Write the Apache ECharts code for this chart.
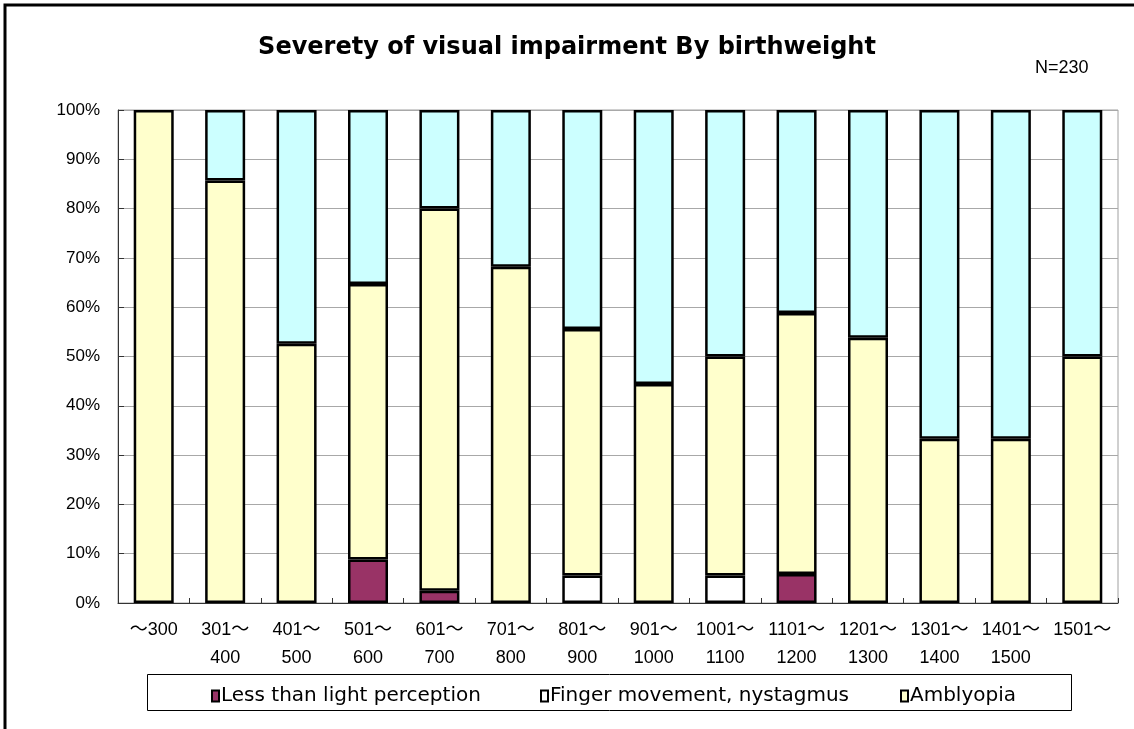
<!DOCTYPE html>
<html>
<head>
<meta charset="utf-8">
<script src="https://cdn.jsdelivr.net/npm/echarts@6/dist/echarts.min.js"></script>
<style>
html,body{margin:0;padding:0;background:#fff;}
#c{width:1134px;height:729px;}
</style>
</head>
<body>
<div id="c"></div>
<script>
var categories = ['～300','301～\n400','401～\n500','501～\n600','601～\n700','701～\n800','801～\n900','901～\n1000','1001～\n1100','1101～\n1200','1201～\n1300','1301～\n1400','1401～\n1500','1501～'];
var lessThanLight = [0, 0, 0, 8.8, 2.5, 0, 0, 0, 0, 5.9, 0, 0, 0, 0];
var fingerMovement = [0, 0, 0, 0, 0, 0, 5.6, 0, 5.6, 0, 0, 0, 0, 0];
var amblyopia = [100, 85.7, 52.6, 55.9, 77.5, 68.2, 50.0, 44.4, 44.4, 52.9, 53.8, 33.3, 33.3, 50.0];
var other = [0, 14.3, 47.4, 35.3, 20.0, 31.8, 44.4, 55.6, 50.0, 41.2, 46.2, 66.7, 66.7, 50.0];

var FONT = "'Liberation Sans',Arial,'Noto Sans CJK JP',sans-serif";
var WFONT = "'DejaVu Sans','Noto Sans CJK JP',sans-serif";
var chart = echarts.init(document.getElementById('c'));
function bar(name, data, color){
  return {name:name,type:'bar',stack:'s',
    data:data.map(function(v){return v===0?'-':v;}),
    barWidth:40,
    itemStyle:{color:color,borderColor:'#000',borderWidth:2.5}};
}
function leg(name, left){
  return {data:[name],left:left,top:681,icon:'rect',itemWidth:7,itemHeight:11,
    textStyle:{fontFamily:WFONT,fontSize:20,color:'#000',padding:[0,0,0,-3]},
    itemStyle:{borderColor:'#000',borderWidth:2},selectedMode:false};
}
chart.setOption({
  animation:false,
  title:{text:'Severety of visual impairment By birthweight',left:'center',top:31,
    textStyle:{fontFamily:WFONT,fontSize:24,fontWeight:'bold',color:'#000'}},
  graphic:[
    {type:'rect',shape:{x:5,y:5,width:1200,height:800},style:{fill:'none',stroke:'#000',lineWidth:3},silent:true},
    {type:'rect',shape:{x:147.5,y:674.5,width:924,height:36},style:{fill:'none',stroke:'#000',lineWidth:1},silent:true},
    {type:'text',left:1035,top:59,style:{text:'N=230',font:'18px '+FONT,fill:'#000'}}
  ],
  legend:[leg('Less than light perception',206),leg('Finger movement, nystagmus',535),leg('Amblyopia',895)],
  grid:{left:118,right:16,top:110,bottom:126,show:true,borderColor:'#a0a0a0',borderWidth:1},
  xAxis:{type:'category',data:categories,
    axisLine:{lineStyle:{color:'#333',width:1}},
    axisTick:{show:true,inside:true,length:5,lineStyle:{color:'#333'}},
    axisLabel:{interval:0,margin:13,lineHeight:28,fontFamily:FONT,fontSize:18,color:'#000',verticalAlign:'top'}},
  yAxis:{type:'value',min:0,max:100,interval:10,
    axisLine:{show:true,lineStyle:{color:'#333'}},
    axisTick:{show:true,inside:true,length:6,lineStyle:{color:'#333'}},
    splitLine:{lineStyle:{color:'#a8a8a8',width:1}},
    axisLabel:{formatter:'{value}%',margin:18,fontFamily:FONT,fontSize:17,color:'#000'}},
  series:[
    bar('Less than light perception',lessThanLight,'#993366'),
    bar('Finger movement, nystagmus',fingerMovement,'#ffffff'),
    bar('Amblyopia',amblyopia,'#ffffcc'),
    bar('Other',other,'#ccffff')
  ]
});
</script>
</body>
</html>
